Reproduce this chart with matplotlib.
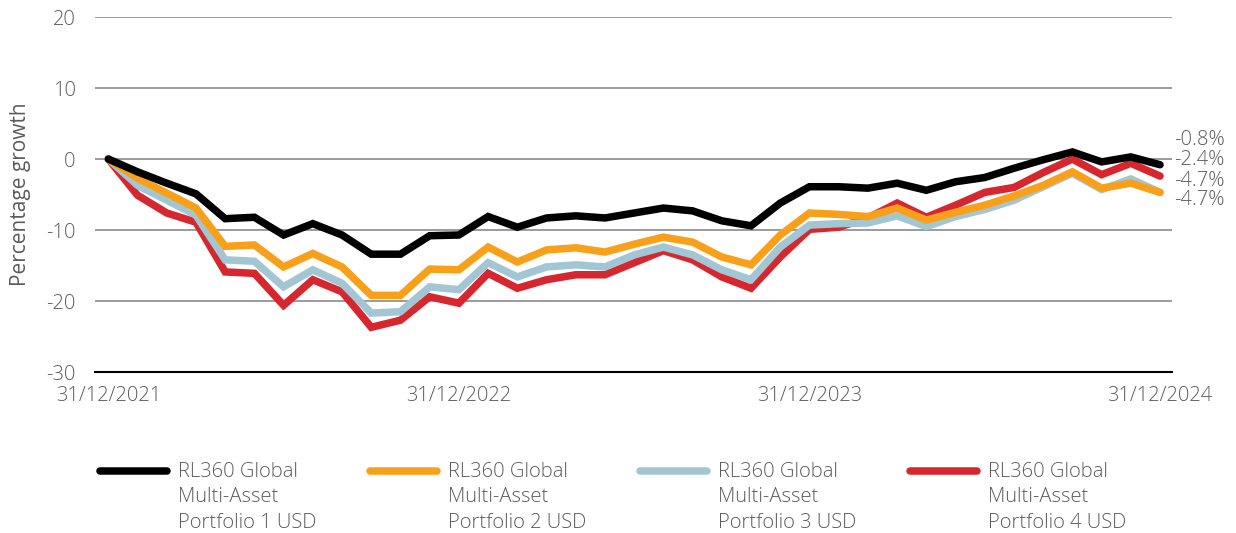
import numpy as np
import matplotlib
matplotlib.use("Agg")
import matplotlib.pyplot as plt
from matplotlib.lines import Line2D

plt.rcParams["font.family"] = ["Open Sans", "DejaVu Sans"]
plt.rcParams["font.weight"] = "light"

date_labels = ["31/12/2021", "31/12/2022", "31/12/2023", "31/12/2024"]
date_ticks = [0, 12, 24, 36]

series_names = [
    "RL360 Global\nMulti-Asset\nPortfolio 1 USD",
    "RL360 Global\nMulti-Asset\nPortfolio 2 USD",
    "RL360 Global\nMulti-Asset\nPortfolio 3 USD",
    "RL360 Global\nMulti-Asset\nPortfolio 4 USD",
]
colors = ["#000000", "#F9A01B", "#A2C6D4", "#D6262E"]

p1 = [0, -1.8, -3.4, -4.9, -8.4, -8.2, -10.7, -9.1, -10.7, -13.4, -13.4, -10.8, -10.7,
      -8.1, -9.6, -8.3, -8.0, -8.3, -7.6, -6.9, -7.3, -8.7, -9.4, -6.2, -3.9, -3.9,
      -4.1, -3.4, -4.4, -3.2, -2.6, -1.3, -0.1, 1.0, -0.4, 0.3, -0.8]
p2 = [0, -2.7, -4.8, -6.9, -12.3, -12.1, -15.2, -13.3, -15.2, -19.2, -19.2, -15.5, -15.6,
      -12.4, -14.5, -12.8, -12.5, -13.1, -12.0, -11.0, -11.7, -13.8, -14.9, -10.7, -7.6,
      -7.8, -8.1, -6.9, -8.6, -7.5, -6.5, -5.2, -3.7, -1.8, -4.1, -3.4, -4.7]
p3 = [0, -3.7, -5.8, -7.9, -14.2, -14.4, -18.0, -15.6, -17.5, -21.7, -21.5, -18.0, -18.4,
      -14.6, -16.6, -15.2, -14.9, -15.2, -13.5, -12.4, -13.5, -15.6, -17.0, -12.4, -9.3,
      -9.1, -9.0, -8.0, -9.5, -8.1, -7.1, -5.8, -3.9, -2.0, -4.3, -2.8, -4.7]
p4 = [0, -5.1, -7.6, -8.9, -15.9, -16.1, -20.6, -17.0, -18.7, -23.7, -22.7, -19.4, -20.3,
      -16.1, -18.2, -17.0, -16.3, -16.3, -14.6, -12.9, -14.2, -16.6, -18.2, -13.8, -9.9,
      -9.6, -8.3, -6.2, -8.2, -6.5, -4.7, -4.0, -1.9, 0.0, -2.2, -0.6, -2.4]

end_labels = ["-0.8%", "-2.4%", "-4.7%", "-4.7%"]

text_color = "#5b5b5b"
all_series = [p1, p2, p3, p4]

fig = plt.figure(figsize=(12.36, 5.33), dpi=100)
ax = fig.add_axes([0.077, 0.302, 0.871, 0.666])

x = np.arange(len(p1))
# draw last series first so portfolio 1 sits on top
for vals, col in reversed(list(zip(all_series, colors))):
    ax.plot(x, vals, color=col, lw=5.4, solid_capstyle="round", solid_joinstyle="miter")

ax.set_ylim(-30, 20)
ax.set_xlim(-0.45, 36.4)
ax.set_yticks([20, 10, 0, -10, -20, -30])
ax.set_yticklabels(["20", "10", "0", "-10", "-20", "-30"])
ax.set_xticks(date_ticks)
ax.set_xticklabels(date_labels)
ax.tick_params(length=0, labelsize=14.5, colors=text_color, pad=14)
ax.tick_params(axis="x", pad=10)
ax.grid(axis="y", color="#8a8a8a", lw=1.2)
ax.set_axisbelow(True)
for s in ["top", "right", "left"]:
    ax.spines[s].set_visible(False)
ax.spines["bottom"].set_color("#000000")
ax.spines["bottom"].set_linewidth(1.5)
ax.set_ylabel("Percentage growth", fontsize=15, color=text_color, labelpad=11)

# stacked end labels
label_y = [2.7, -0.2, -3.1, -5.8]
for lab, ly in zip(end_labels, label_y):
    ax.text(1.002, ly, lab, transform=ax.get_yaxis_transform(), fontsize=14.5,
            color=text_color, va="center", ha="left")

# legend drawn along the bottom
for i, (name, col) in enumerate(zip(series_names, colors)):
    x0 = (100 + i * 270) / 1236
    x1 = (167 + i * 270) / 1236
    fig.add_artist(Line2D([x0, x1], [1 - 471 / 533] * 2, color=col, lw=5.4,
                          solid_capstyle="round", transform=fig.transFigure))
    fig.text((178 + i * 270) / 1236, 1 - 462 / 533, name, fontsize=14.5, color=text_color,
             va="top", ha="left", linespacing=1.36)

fig.savefig("out.png", dpi=100)
